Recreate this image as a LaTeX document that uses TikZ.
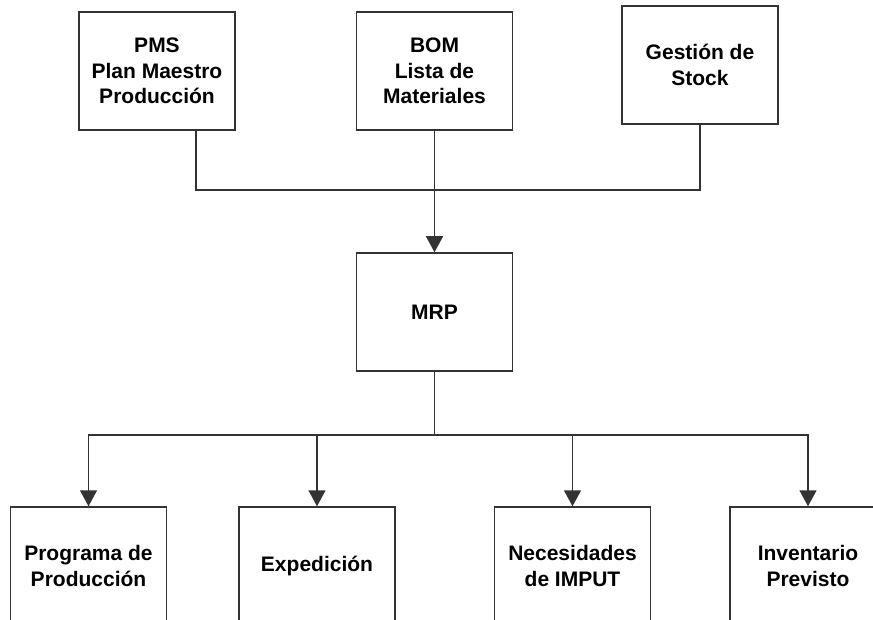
\documentclass[tikz,border=0pt]{standalone}
\usepackage{fontspec}
\setmainfont{Liberation Sans}
\usetikzlibrary{arrows.meta}
\tikzset{
  caja/.style={draw=black!80, line width=1.5pt, rectangle, minimum width=156pt, minimum height=118pt,
    inner sep=0pt, align=center, font=\fontsize{21}{25.5}\selectfont\bfseries},
  enlace/.style={draw=black!80, line width=1.5pt},
  flecha/.style={enlace, -{Triangle[width=17pt,length=16pt]}}
}
\begin{document}
\begin{tikzpicture}[x=1pt,y=-1pt]
\clip (0,0) rectangle (873,620);
\fill[white] (0,0) rectangle (873,620);
% entradas
\node[caja] (pms) at (157,71) {PMS\\Plan Maestro\\Producción};
\node[caja] (bom) at (434.5,71) {BOM\\Lista de\\Materiales};
\node[caja] (stock) at (700,65) {Gestión de\\Stock};
\node[caja] (mrp) at (434.5,312) {MRP};
% salidas
\node[caja] (prog) at (88.5,566) {Programa de\\Producción};
\node[caja] (exped) at (317,566) {Expedición};
\node[caja] (neces) at (572.5,566) {Necesidades\\de IMPUT};
\node[caja] (inven) at (808,566) {Inventario\\Previsto};
\coordinate (jarriba) at (434.5,190);
\coordinate (jabajo) at (434.5,435);
\draw[enlace] ([xshift=39pt]pms.south) |- (jarriba) -| (stock.south);
\draw[flecha] (bom.south) -- (mrp.north);
\draw[enlace] (mrp.south) -- (jabajo);
\foreach \n in {prog,exped,neces,inven}
  \draw[flecha] (jabajo) -| (\n.north);
\end{tikzpicture}
\end{document}
